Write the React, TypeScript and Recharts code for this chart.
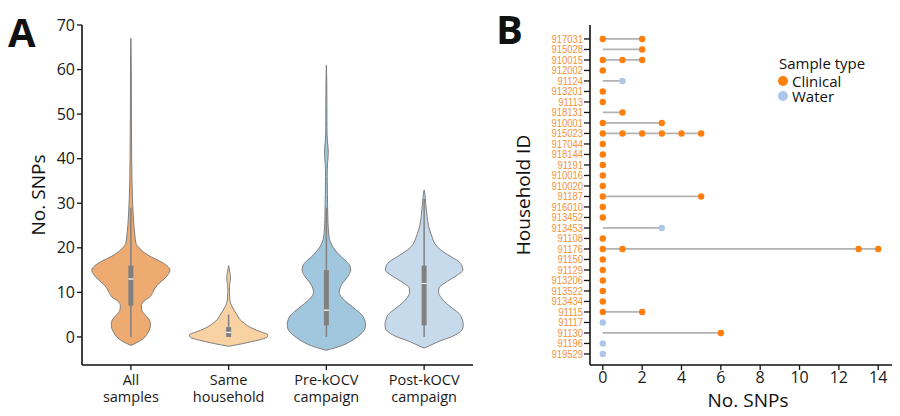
import React from "react";
import {
  ComposedChart,
  Area,
  Line,
  Scatter,
  XAxis,
  YAxis,
  ReferenceLine,
} from "recharts";

// ---- panel A: violin plots ----
const groupLines = [
  ["All", "samples"],
  ["Same", "household"],
  ["Pre-kOCV", "campaign"],
  ["Post-kOCV", "campaign"],
];
const violinFill = ["#EDAA71", "#F9D2A3", "#A0C7DE", "#C7DAEC"];

// density profiles (1 = widest point of that violin)
const allLevels = [-1.9, -1, 0, 1, 2, 3, 4, 5, 6, 7, 8, 9, 10, 11, 12, 13, 14, 15, 16, 17, 18, 19, 20, 21, 23, 25, 28, 31, 35, 40, 50, 60, 67];
const allDensity = [0, 0.21, 0.36, 0.44, 0.49, 0.5, 0.46, 0.36, 0.28, 0.27, 0.33, 0.49, 0.56, 0.62, 0.72, 0.85, 0.95, 1, 0.92, 0.74, 0.51, 0.33, 0.21, 0.13, 0.1, 0.077, 0.056, 0.041, 0.028, 0.02, 0.013, 0.01, 0];

const sameLevels = [-2.1, -1.5, -1, -0.5, 0, 0.5, 1, 1.5, 2, 3, 4, 5, 6, 7, 8, 9, 10, 11, 12, 13, 14, 15, 16];
const sameDensity = [0, 0.36, 0.62, 0.85, 0.99, 1, 0.87, 0.72, 0.59, 0.41, 0.28, 0.21, 0.14, 0.077, 0.038, 0.026, 0.02, 0.02, 0.031, 0.046, 0.041, 0.018, 0];

const preLevels = [-3, -2, -1, 0, 1, 2, 3, 4, 5, 6, 7, 8, 9, 10, 11, 12, 13, 14, 15, 16, 17, 18, 19, 20, 21, 22, 24, 27, 32, 36, 39, 41, 42, 44, 47, 52, 57, 61];
const preDensity = [0, 0.38, 0.62, 0.79, 0.92, 0.99, 1, 0.97, 0.9, 0.77, 0.63, 0.49, 0.38, 0.33, 0.35, 0.41, 0.5, 0.58, 0.62, 0.6, 0.51, 0.38, 0.27, 0.18, 0.12, 0.077, 0.051, 0.036, 0.026, 0.02, 0.031, 0.046, 0.046, 0.026, 0.015, 0.013, 0.01, 0];

const postLevels = [-2.5, -2, -1, 0, 1, 2, 3, 4, 5, 6, 7, 8, 9, 10, 11, 12, 13, 14, 15, 16, 17, 18, 19, 20, 21, 22, 23, 24, 26, 28, 30, 32, 33];
const postDensity = [0, 0.13, 0.38, 0.69, 0.9, 0.99, 1, 0.97, 0.92, 0.79, 0.64, 0.51, 0.42, 0.37, 0.38, 0.51, 0.69, 0.87, 0.99, 0.97, 0.87, 0.69, 0.51, 0.36, 0.27, 0.22, 0.18, 0.14, 0.09, 0.064, 0.041, 0.02, 0];

const whiskerLow = [0, 0, 0, 0];
const q1 = [7, 0, 2.6, 2.6];
const median = [13, 1, 6, 12];
const q3 = [16, 2.2, 15, 16];
const whiskerHigh = [29, 5, 29, 31];

const snpTicks = [0, 10, 20, 30, 40, 50, 60, 70];

// ---- panel B: SNPs per household ----
const households = [
  "917031", "915028", "910015", "912002", "91124", "913201", "91113", "918131",
  "910001", "915023", "917044", "918144", "91191", "910016", "910020", "91187",
  "916010", "913452", "913453", "91108", "91176", "91150", "91129", "913206",
  "913522", "913434", "91115", "91117", "91130", "91196", "919529",
];
const clinical = [
  [0, 2], [2], [0, 1, 2], [0], [], [0], [0], [1],
  [0, 3], [0, 1, 2, 3, 4, 5], [0], [0], [0], [0], [0], [0, 5],
  [0], [0], [], [0], [0, 1, 13, 14], [0], [0], [0],
  [0], [0], [0, 2], [], [6], [], [],
];
const water = [
  [], [], [], [], [1], [], [], [],
  [], [], [], [], [], [], [], [],
  [], [], [3], [], [], [], [], [],
  [], [], [], [0], [], [0], [0],
];
const snpTicksB = [0, 2, 4, 6, 8, 10, 12, 14];

const ORANGE = "#FF7F0E";
const BLUE = "#AEC7E8";
const FONT = "'Open Sans', sans-serif";

const HALF_WIDTH = 0.4;
const violins = [
  [allLevels, allDensity],
  [sameLevels, sameDensity],
  [preLevels, preDensity],
  [postLevels, postDensity],
].map(([levels, dens], i) =>
  levels.map((v, k) => {
    const w = HALF_WIDTH * dens[k];
    return { v, r: [i - w, i + w], lo: i - w, hi: i + w };
  })
);

const stemData = households.flatMap((_, i) => {
  const m = Math.max(0, ...clinical[i], ...water[i]);
  return m > 0 ? [{ x: 0, y: i }, { x: m, y: i }, { x: null, y: null }] : [];
});
const clinicalPts = households.flatMap((_, i) => clinical[i].map((x) => ({ x, y: i })));
const waterPts = households.flatMap((_, i) => water[i].map((x) => ({ x, y: i })));

const CategoryTick = (props: any) => {
  const { x, y, payload } = props;
  const lines = groupLines[payload.value] || [];
  return (
    <text x={x} y={y} textAnchor="middle" fontSize={14.5} fill="#1a1a1a" fontFamily={FONT}>
      {lines.map((t, k) => (
        <tspan key={k} x={x} dy={k === 0 ? 13 : 16.7}>
          {t}
        </tspan>
      ))}
    </text>
  );
};

const HouseholdTick = (props: any) => {
  const { x, y, payload } = props;
  return (
    <text
      transform={`translate(${x},${y}) scale(0.9,1)`}
      textAnchor="end"
      dy="0.36em"
      fontSize={10.5}
      fill="#F39237"
      fontFamily="'Liberation Sans', Arial, sans-serif"
    >
      {households[payload.value]}
    </text>
  );
};

const dotShape = (color: string) => (p: any) => <circle cx={p.cx} cy={p.cy} r={3.2} fill={color} />;

const abs = (s: React.CSSProperties): React.CSSProperties => ({ position: "absolute", whiteSpace: "nowrap", ...s });

export default function App() {
  const axisLine = { stroke: "#111", strokeWidth: 1.6 };
  const tickLine = { stroke: "#111", strokeWidth: 1.3 };
  return (
    <div style={{ position: "absolute", left: 0, top: 0, width: 900, height: 416, background: "#fff", fontFamily: FONT, color: "#111" }}>
      <div style={{ position: "absolute", left: 0, top: 0 }}>
        <ComposedChart layout="vertical" width={480} height={416} margin={{ top: 25, right: 7, bottom: 0, left: 22 }}>
          <XAxis
            type="number"
            domain={[-0.5, 3.5]}
            ticks={[0, 1, 2, 3]}
            allowDataOverflow
            height={51}
            axisLine={axisLine}
            tickLine={tickLine}
            tickSize={5}
            tick={<CategoryTick />}
            interval={0}
          />
          <YAxis
            type="number"
            dataKey="v"
            domain={[-6.3, 70]}
            ticks={snpTicks}
            reversed
            allowDataOverflow
            width={60}
            axisLine={axisLine}
            tickLine={tickLine}
            tickSize={5}
            interval={0}
            tick={{ fontSize: 16, fill: "#1a1a1a", fontFamily: FONT }}
          />
          {violins.map((d, i) => (
            <Area
              key={`a${i}`}
              data={d}
              dataKey="r"
              type="monotone"
              fill={violinFill[i]}
              fillOpacity={1}
              stroke="none"
              isAnimationActive={false}
            />
          ))}
          {violins.map((d, i) => (
            <Line key={`l${i}`} data={d} dataKey="lo" type="monotone" stroke="#7d7d7d" strokeWidth={1} dot={false} activeDot={false} isAnimationActive={false} />
          ))}
          {violins.map((d, i) => (
            <Line key={`h${i}`} data={d} dataKey="hi" type="monotone" stroke="#7d7d7d" strokeWidth={1} dot={false} activeDot={false} isAnimationActive={false} />
          ))}
          {violinFill.map((_, i) => (
            <ReferenceLine key={`w${i}`} segment={[{ x: i, y: whiskerLow[i] }, { x: i, y: whiskerHigh[i] }]} stroke="#808080" strokeWidth={1.5} ifOverflow="visible" />
          ))}
          {violinFill.map((_, i) => (
            <ReferenceLine key={`b${i}`} segment={[{ x: i, y: q1[i] }, { x: i, y: q3[i] }]} stroke="#808080" strokeWidth={5} ifOverflow="visible" />
          ))}
          {violinFill.map((_, i) => (
            <ReferenceLine key={`m${i}`} segment={[{ x: i - 0.025, y: median[i] }, { x: i + 0.025, y: median[i] }]} stroke="#ffffff" strokeWidth={1.2} ifOverflow="visible" />
          ))}
        </ComposedChart>
      </div>

      <div style={{ position: "absolute", left: 500, top: 0 }}>
        <ComposedChart width={400} height={416} margin={{ top: 25, right: 8, bottom: 0, left: 30 }}>
          <XAxis
            type="number"
            dataKey="x"
            domain={[-0.65, 14.7]}
            ticks={snpTicksB}
            allowDataOverflow
            height={51}
            axisLine={axisLine}
            tickLine={tickLine}
            tickSize={5}
            interval={0}
            tick={{ fontSize: 16, fill: "#1a1a1a", fontFamily: FONT }}
          />
          <YAxis
            type="number"
            dataKey="y"
            domain={[-1.33, 31.05]}
            ticks={households.map((_, i) => i)}
            reversed
            allowDataOverflow
            width={60}
            axisLine={axisLine}
            tickLine={tickLine}
            tickSize={6}
            tickMargin={1}
            interval={0}
            tick={<HouseholdTick />}
          />
          <Line data={stemData} dataKey="y" stroke="#b3b3b3" strokeWidth={1.8} dot={false} activeDot={false} isAnimationActive={false} />
          <Scatter data={clinicalPts} fill={ORANGE} shape={dotShape(ORANGE)} isAnimationActive={false} />
          <Scatter data={waterPts} fill={BLUE} shape={dotShape(BLUE)} isAnimationActive={false} />
        </ComposedChart>
      </div>

      <div style={abs({ left: 8, top: 4, fontSize: 40, fontWeight: 700, lineHeight: "normal" })}>A</div>
      <div style={abs({ left: 496, top: 1, fontSize: 40, fontWeight: 700, lineHeight: "normal" })}>B</div>
      <div style={abs({ left: 38, top: 195, fontSize: 19, lineHeight: "22px", transform: "translate(-50%,-50%) rotate(-90deg)" })}>No. SNPs</div>
      <div style={abs({ left: 523, top: 195, fontSize: 19, lineHeight: "22px", transform: "translate(-50%,-50%) rotate(-90deg)" })}>Household ID</div>
      <div style={abs({ left: 748, top: 400, fontSize: 19, lineHeight: "22px", transform: "translate(-50%,-50%)" })}>No. SNPs</div>

      <div style={abs({ left: 779, top: 63, fontSize: 15, lineHeight: "15px", transform: "translateY(-50%)" })}>Sample type</div>
      <div style={abs({ left: 778, top: 76, width: 10, height: 10, borderRadius: 5, background: ORANGE })} />
      <div style={abs({ left: 792, top: 81, fontSize: 15, lineHeight: "15px", transform: "translateY(-50%)" })}>Clinical</div>
      <div style={abs({ left: 778, top: 91, width: 10, height: 10, borderRadius: 5, background: BLUE })} />
      <div style={abs({ left: 792, top: 96, fontSize: 15, lineHeight: "15px", transform: "translateY(-50%)" })}>Water</div>
    </div>
  );
}
